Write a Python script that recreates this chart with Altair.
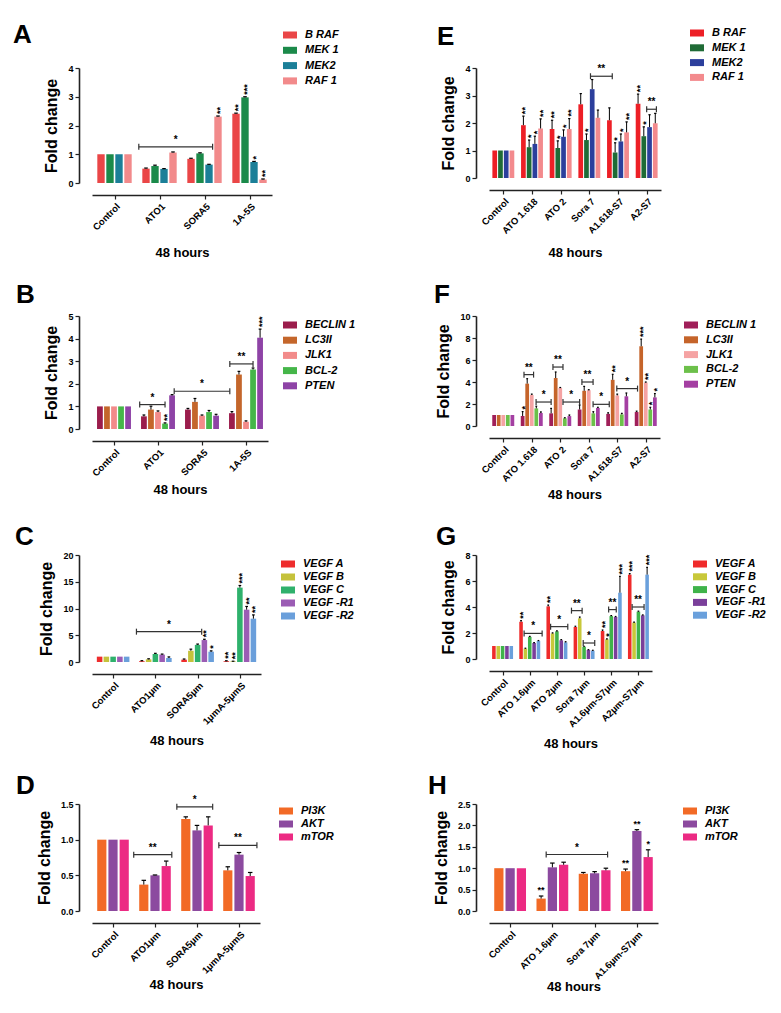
import json
import altair as alt
import pandas as pd

FONT = "Liberation Sans"

# ---------------- Panel A ----------------
A_cats = ["Control", "ATO1", "SORA5", "1A-5S"]
A_series = ["B RAF", "MEK 1", "MEK2", "RAF 1"]
A_colors = ["#ea4647", "#1b8a4a", "#1b7f98", "#f28a8b"]
A_vals = {"B RAF": [1, 0.50, 0.84, 2.41], "MEK 1": [1, 0.59, 1.03, 2.98],
          "MEK2": [1, 0.49, 0.64, 0.73], "RAF 1": [1, 1.06, 2.31, 0.12]}
A_errs = {"B RAF": [0, 0.02, 0.02, 0.02], "MEK 1": [0, 0.03, 0.02, 0.02],
          "MEK2": [0, 0.01, 0.01, 0.02], "RAF 1": [0, 0.02, 0.02, 0.02]}
A_stars = {"B RAF": ["", "", "", "**"], "MEK 1": ["", "", "", "***"],
           "MEK2": ["", "", "", "*"], "RAF 1": ["", "", "**", "**"]}
A_brackets = [(1, -0.8, 2, 2.4, 1.26, "*")]

# ---------------- Panel B ----------------
B_cats = ["Control", "ATO1", "SORA5", "1A-5S"]
B_series = ["BECLIN 1", "LC3II", "JLK1", "BCL-2", "PTEN"]
B_colors = ["#9b1d4c", "#c4662b", "#f28b8a", "#45b649", "#8e43a6"]
B_vals = {"BECLIN 1": [1, 0.56, 0.86, 0.70], "LC3II": [1, 0.86, 1.20, 2.41],
          "JLK1": [1, 0.75, 0.59, 0.32], "BCL-2": [1, 0.24, 0.75, 2.63],
          "PTEN": [1, 1.49, 0.59, 4.04]}
B_errs = {"BECLIN 1": [0, 0.06, 0.05, 0.07], "LC3II": [0, 0.15, 0.15, 0.14],
          "JLK1": [0, 0.05, 0.03, 0.04], "BCL-2": [0, 0.03, 0.07, 0.07],
          "PTEN": [0, 0.03, 0.06, 0.38]}
B_stars = {"BCL-2": ["", "**", "", ""], "PTEN": ["", "", "", "***"]}
B_brackets = [(1, -0.6, 1, 3.0, 1.08, "*"), (1, 4.3, 3, -0.3, 1.67, "*"),
              (3, -0.3, 3, 3.0, 2.88, "**")]

# ---------------- Panel C ----------------
C_cats = ["Control", "ATO1μm", "SORA5μm", "1μmA-5μmS"]
C_series = ["VEGF A", "VEGF B", "VEGF C", "VEGF -R1", "VEGF -R2"]
C_colors = ["#ee2d2d", "#c5c23b", "#2fb16c", "#9b5cb4", "#6a9fdb"]
C_vals = {"VEGF A": [1, 0.15, 0.44, 0.15], "VEGF B": [1, 0.50, 2.10, 0.10],
          "VEGF C": [1, 1.50, 3.20, 13.9], "VEGF -R1": [1, 1.38, 4.10, 9.78],
          "VEGF -R2": [1, 0.75, 1.93, 8.10]}
C_errs = {"VEGF A": [0, 0.10, 0.12, 0.08], "VEGF B": [0, 0.10, 0.30, 0.05],
          "VEGF C": [0, 0.12, 0.15, 0.40], "VEGF -R1": [0, 0.10, 0.15, 0.60],
          "VEGF -R2": [0, 0.20, 0.15, 0.70]}
C_stars = {"VEGF A": ["", "", "", "**"], "VEGF B": ["", "", "", "**"],
           "VEGF C": ["", "", "", "***"], "VEGF -R1": ["", "", "**", "**"],
           "VEGF -R2": ["", "", "*", "**"]}
C_brackets = [(1, -0.8, 2, 2.6, 5.67, "*")]

# ---------------- Panel D ----------------
D_cats = ["Control", "ATO1μm", "SORA5μm", "1μmA-5μmS"]
D_series = ["PI3K", "AKT", "mTOR"]
D_colors = ["#f26a26", "#8c4a9f", "#ec2a83"]
D_vals = {"PI3K": [1, 0.37, 1.29, 0.57], "AKT": [1, 0.50, 1.13, 0.79],
          "mTOR": [1, 0.63, 1.20, 0.49]}
D_errs = {"PI3K": [0, 0.06, 0.03, 0.05], "AKT": [0, 0.005, 0.07, 0.03],
          "mTOR": [0, 0.07, 0.12, 0.05]}
D_stars = {}
D_brackets = [(1, -0.9, 1, 2.5, 0.79, "**"), (2, -0.8, 2, 2.4, 1.46, "*"),
              (3, -0.8, 3, 2.6, 0.92, "**")]

# ---------------- Panel E ----------------
E_cats = ["Control", "ATO 1.618", "ATO 2", "Sora 7", "A1.618-S7", "A2-S7"]
E_series = ["B RAF", "MEK 1", "MEK2", "RAF 1"]
E_colors = ["#ed1f26", "#1f6b36", "#2c3f9c", "#f38a8d"]
E_vals = {"B RAF": [1, 1.92, 1.78, 2.68, 2.10, 2.70], "MEK 1": [1, 1.12, 1.09, 1.38, 0.93, 1.52],
          "MEK2": [1, 1.24, 1.50, 3.23, 1.33, 1.85], "RAF 1": [1, 1.80, 1.78, 2.19, 1.66, 1.99]}
E_errs = {"B RAF": [0, 0.33, 0.32, 0.39, 0.45, 0.35], "MEK 1": [0, 0.26, 0.26, 0.22, 0.35, 0.34],
          "MEK2": [0, 0.28, 0.25, 0.35, 0.27, 0.45], "RAF 1": [0, 0.35, 0.38, 0.28, 0.38, 0.36]}
E_stars = {"B RAF": ["", "**", "**", "", "", "**"], "MEK 1": ["", "*", "*", "*", "*", "*"],
           "MEK2": ["", "*", "*", "", "*", ""], "RAF 1": ["", "**", "**", "", "**", ""]}
E_brackets = [(3, 1.7, 4, 0.5, 3.7, "**"), (5, 1.5, 5, 3.2, 2.5, "**")]

# ---------------- Panel F ----------------
F_cats = ["Control", "ATO 1.618", "ATO 2", "Sora 7", "A1.618-S7", "A2-S7"]
F_series = ["BECLIN 1", "LC3II", "JLK1", "BCL-2", "PTEN"]
F_colors = ["#a01f59", "#c5642a", "#f5a3a3", "#6cc04a", "#a43fa2"]
F_vals = {"BECLIN 1": [1, 0.91, 1.15, 1.50, 1.10, 1.27], "LC3II": [1, 3.85, 4.36, 3.20, 4.20, 7.25],
          "JLK1": [1, 2.82, 3.45, 3.25, 2.78, 3.95], "BCL-2": [1, 1.60, 0.70, 1.15, 1.05, 1.50],
          "PTEN": [1, 1.18, 0.90, 1.64, 2.70, 2.60]}
F_errs = {"BECLIN 1": [0, 0.40, 0.45, 0.40, 0.10, 0.08], "LC3II": [0, 0.45, 0.55, 0.40, 0.50, 0.65],
          "JLK1": [0, 0.08, 0.05, 0.05, 0.12, 0.05], "BCL-2": [0, 0.20, 0.05, 0.15, 0.10, 0.20],
          "PTEN": [0, 0.10, 0.10, 0.06, 0.30, 0.35]}
F_stars = {"BECLIN 1": ["", "*", "", "", "", ""], "LC3II": ["", "", "", "", "**", "***"],
           "JLK1": ["", "", "", "", "", "**"], "BCL-2": ["", "", "", "", "", "*"],
           "PTEN": ["", "", "", "", "", "*"]}
F_brackets = [(1, 0.3, 1, 2.4, 4.67, "**"), (1, 2.95, 2, 0.0, 2.18, "*"),
              (2, 0.4, 2, 2.6, 5.36, "**"), (2, 2.6, 3, 0.0, 2.18, "*"),
              (3, 0.5, 3, 2.95, 4.0, "**"), (3, 2.95, 4, 0.25, 1.97, "*"),
              (4, 1.9, 5, 0.2, 3.4, "*")]

# ---------------- Panel G ----------------
G_cats = ["Control", "ATO 1.6μm", "ATO 2μm", "Sora 7μm", "A1.6μm-S7μm", "A2μm-S7μm"]
G_series = ["VEGF A", "VEGF B", "VEGF C", "VEGF -R1", "VEGF -R2"]
G_colors = ["#ef2b2b", "#c8c83a", "#3fb34a", "#7a3f9a", "#6aa0dc"]
G_vals = {"VEGF A": [1, 2.87, 4.05, 2.46, 2.15, 6.49], "VEGF B": [1, 0.80, 1.97, 3.13, 1.51, 2.80],
          "VEGF C": [1, 1.70, 2.13, 0.95, 3.30, 3.64], "VEGF -R1": [1, 1.23, 1.44, 0.69, 3.23, 3.36],
          "VEGF -R2": [1, 1.38, 1.28, 0.64, 5.10, 6.49]}
G_errs = {"VEGF A": [0, 0.08, 0.10, 0.06, 0.08, 0.08], "VEGF B": [0, 0.03, 0.04, 0.10, 0.04, 0.04],
          "VEGF C": [0, 0.04, 0.04, 0.03, 0.04, 0.04], "VEGF -R1": [0, 0.03, 0.05, 0.03, 0.04, 0.03],
          "VEGF -R2": [0, 0.04, 0.05, 0.03, 1.25, 0.56]}
G_stars = {"VEGF A": ["", "**", "**", "", "**", "***"], "VEGF B": ["", "", "", "", "*", ""],
           "VEGF -R2": ["", "", "", "", "***", "***"]}
G_brackets = [(1, 0.7, 1, 4.85, 1.97, "*"), (2, 0.55, 2, 4.5, 2.49, "*"),
              (3, -0.9, 3, 1.55, 3.72, "**"), (3, 1.8, 3, 4.45, 1.23, "*"),
              (4, 1.4, 4, 3.15, 3.8, "**"), (5, 0.55, 5, 3.3, 4.0, "**")]

# ---------------- Panel H ----------------
H_cats = ["Control", "ATO 1.6μm", "Sora 7μm", "A1.6μm-S7μm"]
H_series = ["PI3K", "AKT", "mTOR"]
H_colors = ["#f26a26", "#8c4a9f", "#ec2a83"]
H_vals = {"PI3K": [1, 0.29, 0.87, 0.93], "AKT": [1, 1.02, 0.88, 1.87], "mTOR": [1, 1.08, 0.95, 1.26]}
H_errs = {"PI3K": [0, 0.06, 0.03, 0.05], "AKT": [0, 0.10, 0.04, 0.03], "mTOR": [0, 0.06, 0.05, 0.17]}
H_stars = {"PI3K": ["", "**", "", "**"], "AKT": ["", "", "", "**"], "mTOR": ["", "", "", "*"]}
H_brackets = [(1, 0.45, 2, 2.15, 1.32, "*")]


def panel(letter, cats, series, colors, vals, errs, stars, brackets, ymax, ticks, fmt,
          width, height, leg_x, leg_y, leg_pad, let_x, let_y, xt_pad, star_angle=270):
    n = len(series)
    slot = 0.8 / n
    rows = []
    for si, s in enumerate(series):
        for gi, c in enumerate(cats):
            ctr = gi + (si - (n - 1) / 2) * slot
            v = vals[s][gi]
            e = errs[s][gi]
            rows.append({"series": s, "cat": c, "xc": ctr,
                         "x0": ctr - 0.41 * slot, "x1": ctr + 0.41 * slot,
                         "c0": ctr - 0.2 * slot, "c1": ctr + 0.2 * slot,
                         "v": v, "base": 0.0, "e": e, "top": v + e,
                         "star": stars.get(s, [""] * len(cats))[gi]})
    df = pd.DataFrame(rows)
    capd = 3.0 * ymax / height
    brows = []
    for g0, s0, g1, s1, lvl, lab in brackets:
        xa = g0 + (s0 - (n - 1) / 2) * slot
        xb = g1 + (s1 - (n - 1) / 2) * slot
        brows.append({"xa": xa, "xb": xb, "xm": (xa + xb) / 2, "lvl": lvl,
                      "lo": lvl - capd, "hi": lvl + capd, "lab": lab})
    bdf = pd.DataFrame(brows)

    xscale = alt.Scale(domain=[-0.5, len(cats) - 0.5], nice=False, zero=False)
    yscale = alt.Scale(domain=[0, ymax], nice=False)
    xaxis = alt.Axis(values=list(range(len(cats))),
                     labelExpr=json.dumps(cats, ensure_ascii=False) + "[datum.value]",
                     title="48 hours", labelAngle=-45, labelOverlap=False, labelFlush=False,
                     labelBound=False, titlePadding=xt_pad)
    yaxis = alt.Axis(values=ticks, format=fmt, title="Fold change", labelOverlap=False)

    def X(f):
        return alt.X(f, scale=xscale, axis=xaxis)

    def Y(f):
        return alt.Y(f, scale=yscale, axis=yaxis)

    bars = alt.Chart(df).mark_bar().encode(
        x=X("x0:Q"), x2="x1:Q", y=Y("v:Q"), y2="base:Q",
        color=alt.Color("series:N", scale=alt.Scale(domain=series, range=colors),
                        legend=alt.Legend(title=None, orient="none", legendX=leg_x, legendY=leg_y,
                                          labelFontSize=11, labelFontStyle="italic",
                                          labelFontWeight="bold", labelColor="black",
                                          symbolType="M-1,-0.5H1V0.5H-1Z", symbolSize=196,
                                          symbolStrokeWidth=0, rowPadding=leg_pad, labelOffset=8)),
    )
    eb = alt.Chart(df).transform_filter("datum.e > 0")
    err = eb.mark_rule(color="black", strokeWidth=1).encode(x=X("xc:Q"), y=Y("v:Q"), y2="top:Q")
    cap = eb.mark_rule(color="black", strokeWidth=1.2).encode(x=X("c0:Q"), x2="c1:Q", y=Y("top:Q"))
    if star_angle:
        st_mark = dict(angle=star_angle, align="left", baseline="middle", dx=2, dy=2)
    else:
        st_mark = dict(align="center", baseline="bottom", dy=-1)
    st = alt.Chart(df).transform_filter("datum.star != ''").mark_text(
        fontSize=9, fontWeight="bold", color="black", **st_mark
    ).encode(x=X("xc:Q"), y=Y("top:Q"), text="star:N")
    lab = alt.Chart(pd.DataFrame({"t": [letter]})).mark_text(
        fontSize=26, fontWeight="bold", color="black", align="left", baseline="alphabetic"
    ).encode(x=alt.value(let_x), y=alt.value(let_y), text="t:N")
    layers = [bars, err, cap, st]
    if len(bdf):
        bl = alt.Chart(bdf).mark_rule(color="#333", strokeWidth=1.2).encode(x=X("xa:Q"), x2="xb:Q", y=Y("lvl:Q"))
        bcl = alt.Chart(bdf).mark_rule(color="#333", strokeWidth=1.2).encode(x=X("xa:Q"), y=Y("lo:Q"), y2="hi:Q")
        bcr = alt.Chart(bdf).mark_rule(color="#333", strokeWidth=1.2).encode(x=X("xb:Q"), y=Y("lo:Q"), y2="hi:Q")
        blab = alt.Chart(bdf).mark_text(fontSize=10, fontWeight="bold", color="black",
                                        baseline="bottom", dy=-2).encode(
            x=X("xm:Q"), y=Y("lvl:Q"), text="lab:N")
        layers += [bl, bcl, bcr, blab]
    layers.append(lab)
    return alt.layer(*layers).properties(width=width, height=height)


pA = panel("A", A_cats, A_series, A_colors, A_vals, A_errs, A_stars, A_brackets,
           4, [0, 1, 2, 3, 4], "d", 180, 115, 191, -40, 3.3, -79, -25, 15)
pE = panel("E", E_cats, E_series, E_colors, E_vals, E_errs, E_stars, E_brackets,
           4, [0, 1, 2, 3, 4], "d", 172, 110, 201, -42, 2.8, -52, -23, 12)
pB = panel("B", B_cats, B_series, B_colors, B_vals, B_errs, B_stars, B_brackets,
           5, [0, 1, 2, 3, 4, 5], "d", 176, 113, 191, 2, 3.2, -76, -13, 6)
pF = panel("F", F_cats, F_series, F_colors, F_vals, F_errs, F_stars, F_brackets,
           10, [0, 2, 4, 6, 8, 10], "d", 171, 110, 195, 2, 2.8, -55, -13, 6)
pC = panel("C", C_cats, C_series, C_colors, C_vals, C_errs, C_stars, C_brackets,
           20, [0, 5, 10, 15, 20], "d", 169, 107, 189, 2, 1, -77, -10, 9)
pG = panel("G", G_cats, G_series, G_colors, G_vals, G_errs, G_stars, G_brackets,
           8, [0, 2, 4, 6, 8], "d", 163, 104, 204, 2, 0.8, -53, -10, 9)
pD = panel("D", D_cats, D_series, D_colors, D_vals, D_errs, D_stars, D_brackets,
           1.5, [0, 0.5, 1.0, 1.5], ".1f", 168, 107, 187, 0, 1, -76, -10, 4)
pH = panel("H", H_cats, H_series, H_colors, H_vals, H_errs, H_stars, H_brackets,
           2.5, [0, 0.5, 1.0, 1.5, 2.0, 2.5], ".1f", 169, 107, 194, 0, 1, -61, -10, 0, star_angle=0)

chart = alt.concat(pA, pE, pB, pF, pC, pG, pD, pH, columns=2, align="each",
                   spacing=alt.RowColnumber(row=22, column=72)).resolve_scale(
    color="independent", x="independent", y="independent"
).resolve_legend(color="independent").resolve_axis(x="independent", y="independent").properties(
    padding={"left": 5, "top": 14, "right": 5, "bottom": 5}
).configure(
    font=FONT, background="white"
).configure_view(stroke=None).configure_axis(
    grid=False, labelColor="black", labelFontWeight="bold", labelFontSize=9, labelFont=FONT,
    titleColor="black", titleFontWeight="bold", titleFont=FONT,
    domainColor="#222", tickColor="#222", tickWidth=1.2, domainWidth=1.6, tickSize=4,
).configure_axisX(offset=12, titleFontSize=13, labelPadding=2,
                  labelFontSize=9.5).configure_axisY(
    offset=13, titleFontSize=16, titlePadding=8
)

chart.save("out.html", embed_options={"renderer": "svg", "actions": False})
